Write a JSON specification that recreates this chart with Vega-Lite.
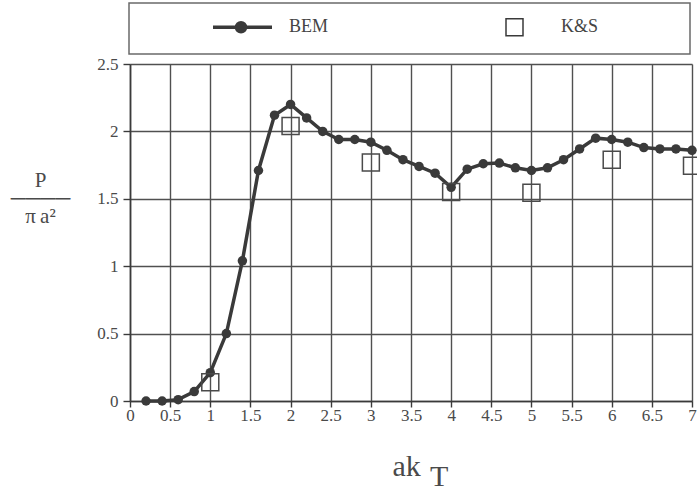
{
  "$schema": "https://vega.github.io/schema/vega-lite/v6.json",
  "width": 562,
  "height": 337,
  "autosize": {"type": "none"},
  "padding": {"left": 130, "top": 64, "right": 5, "bottom": 88},
  "background": "white",
  "config": {"view": {"stroke": null}, "font": "Liberation Serif"},
  "data": {
    "values": [
      {"ak": 0.2, "P": 0.0, "series": "BEM"},
      {"ak": 0.4, "P": 0.0, "series": "BEM"},
      {"ak": 0.6, "P": 0.01, "series": "BEM"},
      {"ak": 0.8, "P": 0.07, "series": "BEM"},
      {"ak": 1.0, "P": 0.21, "series": "BEM"},
      {"ak": 1.2, "P": 0.5, "series": "BEM"},
      {"ak": 1.4, "P": 1.04, "series": "BEM"},
      {"ak": 1.6, "P": 1.71, "series": "BEM"},
      {"ak": 1.8, "P": 2.12, "series": "BEM"},
      {"ak": 2.0, "P": 2.2, "series": "BEM"},
      {"ak": 2.2, "P": 2.1, "series": "BEM"},
      {"ak": 2.4, "P": 2.0, "series": "BEM"},
      {"ak": 2.6, "P": 1.94, "series": "BEM"},
      {"ak": 2.8, "P": 1.94, "series": "BEM"},
      {"ak": 3.0, "P": 1.92, "series": "BEM"},
      {"ak": 3.2, "P": 1.86, "series": "BEM"},
      {"ak": 3.4, "P": 1.79, "series": "BEM"},
      {"ak": 3.6, "P": 1.74, "series": "BEM"},
      {"ak": 3.8, "P": 1.69, "series": "BEM"},
      {"ak": 4.0, "P": 1.585, "series": "BEM"},
      {"ak": 4.2, "P": 1.72, "series": "BEM"},
      {"ak": 4.4, "P": 1.76, "series": "BEM"},
      {"ak": 4.6, "P": 1.765, "series": "BEM"},
      {"ak": 4.8, "P": 1.73, "series": "BEM"},
      {"ak": 5.0, "P": 1.71, "series": "BEM"},
      {"ak": 5.2, "P": 1.73, "series": "BEM"},
      {"ak": 5.4, "P": 1.79, "series": "BEM"},
      {"ak": 5.6, "P": 1.87, "series": "BEM"},
      {"ak": 5.8, "P": 1.95, "series": "BEM"},
      {"ak": 6.0, "P": 1.94, "series": "BEM"},
      {"ak": 6.2, "P": 1.92, "series": "BEM"},
      {"ak": 6.4, "P": 1.88, "series": "BEM"},
      {"ak": 6.6, "P": 1.87, "series": "BEM"},
      {"ak": 6.8, "P": 1.87, "series": "BEM"},
      {"ak": 7.0, "P": 1.86, "series": "BEM"},
      {"ak": 1, "P": 0.14, "series": "K&S"},
      {"ak": 2, "P": 2.04, "series": "K&S"},
      {"ak": 3, "P": 1.77, "series": "K&S"},
      {"ak": 4, "P": 1.55, "series": "K&S"},
      {"ak": 5, "P": 1.545, "series": "K&S"},
      {"ak": 6, "P": 1.79, "series": "K&S"},
      {"ak": 7, "P": 1.745, "series": "K&S"}
    ]
  },
  "encoding": {
    "x": {
      "field": "ak",
      "type": "quantitative",
      "scale": {"domain": [0, 7], "nice": false, "zero": false},
      "axis": {
        "values": [0, 0.5, 1, 1.5, 2, 2.5, 3, 3.5, 4, 4.5, 5, 5.5, 6, 6.5, 7],
        "format": "~g",
        "grid": true,
        "gridColor": "#505050",
        "gridWidth": 1.4,
        "domainColor": "#3a3a3a",
        "domainWidth": 1.6,
        "tickColor": "#3a3a3a",
        "tickWidth": 1.4,
        "tickSize": 6,
        "labelFont": "Liberation Serif",
        "labelFontSize": 17,
        "labelColor": "#4a4a4a",
        "labelPadding": 0,
        "labelFlush": false,
        "labelOverlap": false,
        "title": ["ak", "\u200b\u00a0\u00a0\u00a0\u00a0\u00a0T"],
        "titleFont": "Liberation Serif",
        "titleFontSize": 30,
        "titleFontWeight": "normal",
        "titleColor": "#4a4a4a",
        "titleAlign": "left",
        "titleBaseline": "alphabetic",
        "titleX": 262,
        "titleY": 74,
        "titleLineHeight": 10
      }
    },
    "y": {
      "field": "P",
      "type": "quantitative",
      "scale": {"domain": [0, 2.5], "nice": false},
      "axis": {
        "values": [0, 0.5, 1, 1.5, 2, 2.5],
        "format": "~g",
        "grid": true,
        "gridColor": "#505050",
        "gridWidth": 1.4,
        "domainColor": "#3a3a3a",
        "domainWidth": 1.6,
        "tickColor": "#3a3a3a",
        "tickWidth": 1.4,
        "tickSize": 7,
        "labelFont": "Liberation Serif",
        "labelFontSize": 17,
        "labelColor": "#4a4a4a",
        "labelPadding": 5,
        "labelFlush": false,
        "labelOverlap": false,
        "title": ["P", "\u2500\u2500\u2500\u2500", "\u03c0\u2009a\u00b2"],
        "titleFont": "Liberation Serif",
        "titleFontSize": 21,
        "titleFontWeight": "normal",
        "titleColor": "#4a4a4a",
        "titleAngle": 0,
        "titleAlign": "center",
        "titleBaseline": "alphabetic",
        "titleX": -90,
        "titleY": 122,
        "titleLineHeight": 18
      }
    }
  },
  "layer": [
    {
      "transform": [{"filter": "datum.series === 'BEM'"}],
      "mark": {"type": "line", "color": "#3a3a3a", "strokeWidth": 3.5}
    },
    {
      "transform": [{"filter": "datum.series === 'BEM'"}],
      "mark": {"type": "point", "shape": "circle", "filled": true, "color": "#3a3a3a", "size": 90},
      "encoding": {
        "opacity": {
          "field": "series",
          "type": "ordinal",
          "scale": {"domain": ["BEM", "K&S"], "range": [1, 1]},
          "legend": {
            "orient": "none",
            "legendX": -1,
            "legendY": -61,
            "direction": "horizontal",
            "title": "\u00a0",
            "titleOrient": "left",
            "titleFontSize": 1,
            "titlePadding": 70,
            "padding": 15,
            "strokeColor": "#6a6a6a",
            "fillColor": "white",
            "symbolSize": 400,
            "labelOffset": 57,
            "columnPadding": 157,
            "labelFont": "Liberation Serif",
            "labelFontSize": 18,
            "labelColor": "#444444",
            "labelLimit": 300,
            "labelExpr": "datum.value === 'K&S' ? 'K&S\u00a0\u00a0\u00a0\u00a0\u00a0\u00a0\u00a0\u00a0\u00a0\u00a0\u00a0\u00a0\u00a0\u00a0\u00a0\u00a0\u00a0\u200b' : datum.label",
            "encoding": {
              "legend": {"strokeWidth": {"value": 1.5}},
              "symbols": {
                "shape": {"value": {"expr": "datum.value === 'BEM' ? 'M-1,0H4.9M2.25,0a0.45,0.45 0 1,0 -0.9,0a0.45,0.45 0 1,0 0.9,0' : 'M1.1,-0.85h1.7v1.7h-1.7z'"}},
                "size": {"value": 400},
                "fill": {"value": {"expr": "datum.value === 'BEM' ? '#3a3a3a' : 'transparent'"}},
                "stroke": {"value": "#3a3a3a"},
                "strokeWidth": {"value": {"expr": "datum.value === 'BEM' ? 3.5 : 1.5"}}
              }
            }
          }
        }
      }
    },
    {
      "transform": [{"filter": "datum.series === 'K&S'"}],
      "mark": {"type": "point", "shape": "square", "filled": false, "color": "#4a4a4a", "size": 289, "strokeWidth": 1.5},
      "encoding": {
        "opacity": {"field": "series", "type": "ordinal"}
      }
    }
  ]
}
